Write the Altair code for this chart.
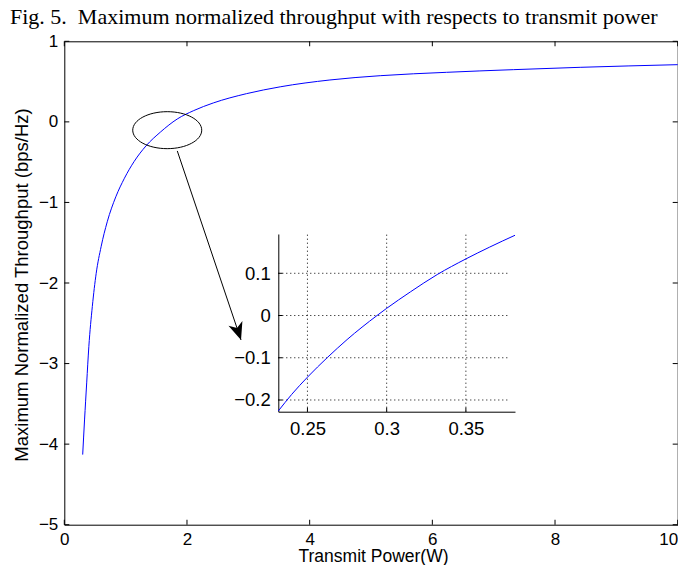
import altair as alt
import pandas as pd

# ---------------- data ----------------
# main curve: transmit power (W) vs max normalized throughput (bps/Hz)
power_w = [0.30, 0.33, 0.365, 0.40, 0.457, 0.52, 0.60, 0.70, 0.84, 0.98, 1.14, 1.33,
           1.57, 1.84, 2.11, 2.43, 2.97, 3.52, 4.33, 5.15, 6.23, 7.32, 8.41, 10.0]
throughput = [-4.13, -3.70, -3.24, -2.79, -2.29, -1.88, -1.55, -1.24, -0.93, -0.70, -0.49, -0.30,
              -0.125, 0.035, 0.14, 0.235, 0.35, 0.435, 0.52, 0.573, 0.615, 0.648, 0.677, 0.71]

# zoomed inset curve
inset_power = [0.2316, 0.24, 0.25, 0.2627, 0.275, 0.2939, 0.30, 0.315, 0.3319, 0.35, 0.365, 0.381]
inset_throughput = [-0.226, -0.187, -0.146, -0.099, -0.057, 0.0, 0.017, 0.056, 0.097, 0.134, 0.162, 0.19]

x_ticks = [0, 2, 4, 6, 8, 10]
y_ticks = [-5, -4, -3, -2, -1, 0, 1]
x_domain = [0, 10]
y_domain = [-5, 1]

inset_x_ticks = [0.25, 0.3, 0.35]
inset_y_ticks = [-0.2, -0.1, 0, 0.1]
inset_x_domain = [0.2316, 0.381]
inset_y_domain = [-0.2277, 0.193]
inset_grid_x_end = [0.377]

# annotation: ellipse around the zoomed region and the arrow to the inset
ellipse_x = [1.678]
ellipse_y = [-0.103]
arrow_x = [1.842, 2.881]
arrow_y = [-0.361, -2.707]

# ---------------- layout ----------------
W, H = 613.4, 483.4
INSET_LEFT, INSET_RIGHT, INSET_TOP, INSET_BOTTOM = 214.0, 450.7, 192.7, 370.4
SANS = "Liberation Sans"
LBL = dict(labelFont=SANS, labelColor="black", titleFont=SANS, titleColor="black",
           titleFontWeight="normal")

curve_df = pd.DataFrame({"p": power_w, "t": throughput})
inset_df = pd.DataFrame({"ip": inset_power, "it": inset_throughput})
xt_df = pd.DataFrame({"p": x_ticks})
yt_df = pd.DataFrame({"t": y_ticks})
ell_df = pd.DataFrame({"p": ellipse_x, "t": ellipse_y})
arrow_df = pd.DataFrame({"p": [arrow_x[0]], "t": [arrow_y[0]], "p2": [arrow_x[1]], "t2": [arrow_y[1]]})
head_df = pd.DataFrame({"p": [arrow_x[1]], "t": [arrow_y[1]]})
ixt_df = pd.DataFrame({"ip": inset_x_ticks})
iyt_df = pd.DataFrame({"it": inset_y_ticks})

xs = alt.Scale(domain=x_domain, nice=False, zero=False)
ys = alt.Scale(domain=y_domain, nice=False, zero=False)

curve = alt.Chart(curve_df).mark_line(color="#0000ff", strokeWidth=1, interpolate="monotone").encode(
    x=alt.X("p:Q", scale=xs, axis=alt.Axis(
        values=x_ticks, format="d", title="Transmit Power(W)", ticks=False, domain=False,
        grid=False, labelPadding=20.0, labelBaseline="alphabetic", labelFlush=False,
        labelAlign={"expr": "datum.value == 10 ? 'right' : 'center'"},
        labelFontSize=17, titleFontSize=17.5,
        titleX=308.7, titleY=36.6, titleBaseline="alphabetic", titleAlign="center", **LBL)),
    y=alt.Y("t:Q", scale=ys, axis=alt.Axis(
        values=y_ticks, format="d", title="Maximum Normalized Throughput (bps/Hz)",
        ticks=False, domain=False, grid=False, labelPadding=6.5, labelFlush=False,
        labelFontSize=17, titleFontSize=18.5,
        titleX=-36.8, titleY=243.2, titleAngle=270, titleBaseline="alphabetic",
        titleAlign="center", **LBL)),
)

ellipse = alt.Chart(ell_df).mark_point(
    shape="M -1 0 A 1 0.536 0 1 1 1 0 A 1 0.536 0 1 1 -1 0 Z",
    size=4761, filled=False, color="black", strokeWidth=1, opacity=1,
).encode(x="p:Q", y="t:Q")

arrow = alt.Chart(arrow_df).mark_rule(color="black", strokeWidth=1).encode(
    x="p:Q", y="t:Q", x2="p2:Q", y2="t2:Q")

head = alt.Chart(head_df).mark_point(
    shape="M 0 0 L -0.42 -1 L 0 -0.72 L 0.42 -1 Z",
    size=1225, filled=True, color="black", opacity=1, angle=341.4, strokeWidth=0,
).encode(x="p:Q", y="t:Q")

tick_b = alt.Chart(xt_df).mark_tick(orient="vertical", size=5, thickness=1, color="black",
                                    yOffset=-2.5, opacity=1).encode(
    x="p:Q", y=alt.datum(y_domain[0]))
tick_t = alt.Chart(xt_df).mark_tick(orient="vertical", size=5, thickness=1, color="black",
                                    yOffset=2.5, opacity=1).encode(
    x="p:Q", y=alt.datum(y_domain[1]))
tick_l = alt.Chart(yt_df).mark_tick(orient="horizontal", size=5, thickness=1, color="black",
                                    xOffset=2.5, opacity=1).encode(
    y="t:Q", x=alt.datum(x_domain[0]))
tick_r = alt.Chart(yt_df).mark_tick(orient="horizontal", size=5, thickness=1, color="black",
                                    xOffset=-2.5, opacity=1).encode(
    y="t:Q", x=alt.datum(x_domain[1]))

main = alt.layer(curve, ellipse, arrow, head, tick_b, tick_t, tick_l, tick_r)

# ---------------- inset ----------------
ixs = alt.Scale(domain=inset_x_domain, range=[INSET_LEFT, INSET_RIGHT], nice=False, zero=False)
iys = alt.Scale(domain=inset_y_domain, range=[INSET_BOTTOM, INSET_TOP], nice=False, zero=False)

icurve = alt.Chart(inset_df).mark_line(color="#0000ff", strokeWidth=1, interpolate="monotone").encode(
    x=alt.X("ip:Q", scale=ixs, axis=alt.Axis(
        orient="bottom", offset=-(H - INSET_BOTTOM), values=inset_x_ticks, format="~g",
        title=None, ticks=False, domain=True, domainColor="black", domainWidth=1,
        grid=False, labelFontSize=18.5, labelPadding=23.3, labelBaseline="alphabetic",
        labelFlush=False, labelFont=SANS, labelColor="black")),
    y=alt.Y("it:Q", scale=iys, axis=alt.Axis(
        orient="left", offset=-INSET_LEFT, values=inset_y_ticks, format="~g",
        title=None, ticks=False, domain=True, domainColor="black", domainWidth=1,
        grid=False, labelFontSize=18.5, labelPadding=8, labelFlush=False,
        labelFont=SANS, labelColor="black")),
)

vgrid = alt.Chart(ixt_df).mark_rule(color="black", strokeWidth=1, strokeDash=[1, 3]).encode(
    x="ip:Q", y=alt.datum(inset_y_domain[0]), y2=alt.datum(inset_y_domain[1]))
hgrid = alt.Chart(iyt_df).mark_rule(color="black", strokeWidth=1, strokeDash=[1, 3]).encode(
    y="it:Q", x=alt.datum(inset_x_domain[0]), x2=alt.datum(inset_grid_x_end[0]))
itick_b = alt.Chart(ixt_df).mark_tick(orient="vertical", size=4, thickness=1, color="black",
                                      yOffset=-2, opacity=1).encode(
    x="ip:Q", y=alt.datum(inset_y_domain[0]))
itick_l = alt.Chart(iyt_df).mark_tick(orient="horizontal", size=4, thickness=1, color="black",
                                      xOffset=2, opacity=1).encode(
    y="it:Q", x=alt.datum(inset_x_domain[0]))

inset = alt.layer(vgrid, hgrid, itick_b, itick_l, icurve)

chart = alt.layer(main, inset).resolve_scale(
    x="independent", y="independent"
).resolve_axis(
    x="independent", y="independent"
).properties(
    width=W, height=H,
    padding={"left": 56.3, "top": 33.3, "right": 0.3, "bottom": 40.3},
    autosize=alt.AutoSizeParams(type="none"),
    background="white",
    title=alt.TitleParams(
        text="Fig. 5.\u00a0 Maximum normalized throughput with respects to transmit power",
        font="Liberation Serif", fontSize=22, fontWeight="normal", color="black",
        anchor="start", frame="group", dx=-54.3, dy=23, offset=9, baseline="alphabetic"),
).configure_view(
    stroke="black", strokeWidth=1
)

chart.save("out.html", embed_options={"renderer": "svg", "actions": False})
